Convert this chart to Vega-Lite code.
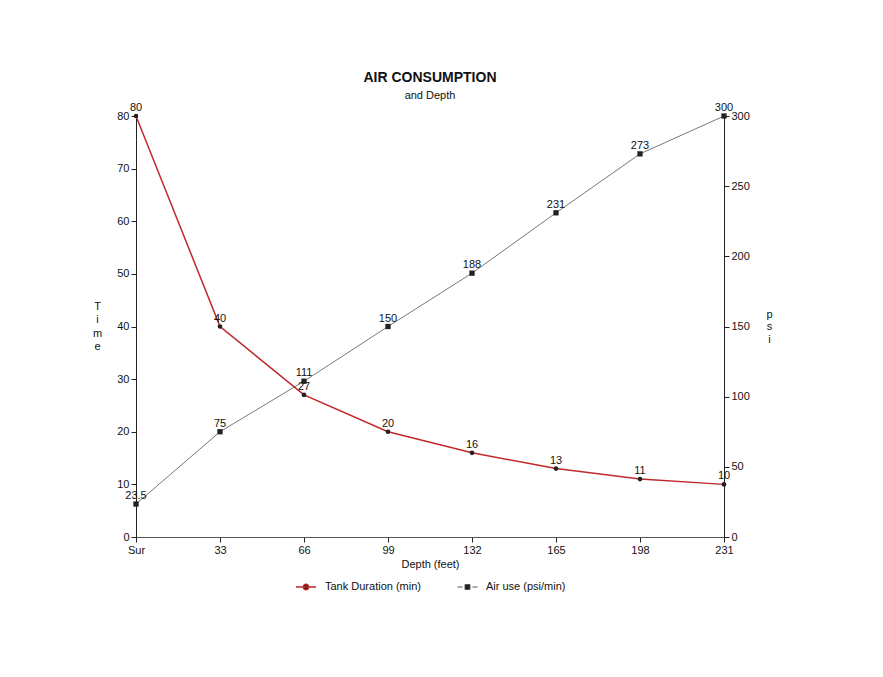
{
  "$schema": "https://vega.github.io/schema/vega-lite/v6.json",
  "autosize": {"type": "none"},
  "padding": {"left": 136, "top": 116, "right": 159, "bottom": 140},
  "width": 588,
  "height": 421,
  "background": "white",
  "config": {
    "font": "Liberation Sans",
    "view": {"stroke": null},
    "axis": {"grid": false, "labelFontSize": 11, "titleFontSize": 11, "titleFontWeight": "normal", "labelColor": "#111", "titleColor": "#111", "domainColor": "#222", "tickColor": "#222", "tickSize": 5, "labelFlush": false},
    "legend": {"layout": {"bottom": {"anchor": "middle", "direction": "horizontal", "center": true, "margin": 36}}}
  },
  "title": {"text": "AIR CONSUMPTION", "subtitle": "and Depth", "fontSize": 14, "fontWeight": "bold", "subtitleFontSize": 11, "subtitlePadding": 5, "anchor": "middle", "offset": 1, "color": "#111", "subtitleColor": "#111"},
  "data": {"values": [
    {"depth": 0, "tank": 80, "air": 23.5},
    {"depth": 33, "tank": 40, "air": 75},
    {"depth": 66, "tank": 27, "air": 111},
    {"depth": 99, "tank": 20, "air": 150},
    {"depth": 132, "tank": 16, "air": 188},
    {"depth": 165, "tank": 13, "air": 231},
    {"depth": 198, "tank": 11, "air": 273},
    {"depth": 231, "tank": 10, "air": 300}
  ]},
  "encoding": {
    "x": {"field": "depth", "type": "quantitative", "scale": {"domain": [0, 231], "nice": false, "zero": false},
      "axis": {"values": [0, 33, 66, 99, 132, 165, 198, 231], "labelExpr": "datum.value == 0 ? 'Sur' : datum.value", "title": "Depth (feet)", "titlePadding": 3, "labelPadding": 2, "domainColor": "#555"}}
  },
  "layer": [
    {
      "encoding": {
        "y": {"field": "tank", "type": "quantitative", "scale": {"domain": [0, 80], "nice": false},
          "axis": {"orient": "left", "values": [0, 10, 20, 30, 40, 50, 60, 70, 80], "title": ["T", "i", "m", "e"], "titleAngle": 0, "titleX": -39, "titleY": 184, "titleAlign": "center", "titleBaseline": "top", "titleLineHeight": 13.5, "labelPadding": 2}}
      },
      "layer": [
        {"mark": {"type": "line", "strokeWidth": 1.5},
          "encoding": {"color": {"datum": "Tank Duration (min)", "type": "nominal", "scale": {"range": ["#c0282a"]},
            "legend": {"orient": "bottom", "title": null, "labelFontSize": 11, "labelColor": "#111", "symbolSize": 400, "symbolStrokeWidth": 1.4, "symbolFillColor": "#222", "symbolType": "M-1,0H1M-0.28,0A0.28,0.28 0 1,0 0.28,0A0.28,0.28 0 1,0 -0.28,0Z", "offset": 7, "labelOffset": 8}}}},
        {"mark": {"type": "point", "filled": true, "color": "#222", "size": 22, "opacity": 1, "shape": "circle"}},
        {"mark": {"type": "text", "fontSize": 11, "dy": -8, "color": "#111"}, "encoding": {"text": {"field": "tank", "type": "quantitative"}}}
      ]
    },
    {
      "encoding": {
        "y": {"field": "air", "type": "quantitative", "scale": {"domain": [0, 300], "nice": false},
          "axis": {"orient": "right", "values": [0, 50, 100, 150, 200, 250, 300], "title": ["p", "s", "i"], "titleAngle": 0, "titleX": 45, "titleY": 192, "titleAlign": "center", "titleBaseline": "top", "titleLineHeight": 12.5, "labelPadding": 2}}
      },
      "layer": [
        {"mark": {"type": "line", "strokeWidth": 0.8},
          "encoding": {"color": {"datum": "Air use (psi/min)", "type": "nominal", "scale": {"range": ["#555"]},
            "legend": {"orient": "bottom", "title": null, "labelFontSize": 11, "labelColor": "#111", "symbolSize": 400, "symbolStrokeWidth": 1, "symbolFillColor": "#222", "symbolType": "M-1,0H-0.5M0.5,0H1M-0.25,-0.25H0.25V0.25H-0.25Z", "offset": 7, "labelOffset": 8}}}},
        {"mark": {"type": "point", "filled": true, "color": "#222", "size": 28, "opacity": 1, "shape": "square"}},
        {"mark": {"type": "text", "fontSize": 11, "dy": -8, "color": "#111"}, "encoding": {"text": {"field": "air", "type": "quantitative"}}}
      ]
    }
  ],
  "resolve": {"scale": {"y": "independent", "color": "independent"}, "legend": {"color": "independent"}}
}
